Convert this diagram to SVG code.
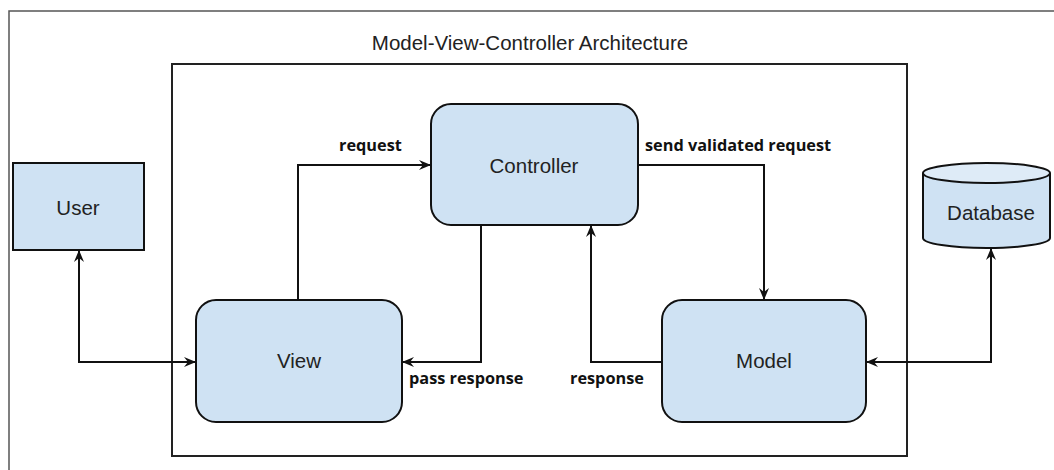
<svg xmlns="http://www.w3.org/2000/svg" width="1054" height="470" viewBox="0 0 1054 470">
  <style>
    .node { fill: #cfe2f3; stroke: #111; stroke-width: 2; }
    .label { font-family: "Liberation Sans", Arial, sans-serif; font-size: 20.5px; fill: #222; text-anchor: middle; }
    .edge { fill: none; stroke: #111; stroke-width: 2; }
    .elabel { font-family: "Open Sans", "DejaVu Sans", sans-serif; font-size: 16.3px; font-weight: bold; fill: #111; }
  </style>
  <defs>
    <marker id="arrow" viewBox="0 0 12 10" refX="11" refY="5" markerWidth="12" markerHeight="10" markerUnits="userSpaceOnUse" orient="auto-start-reverse">
      <path d="M0,0 L12,5 L0,10 L4,5 Z" fill="#111"/>
    </marker>
  </defs>

  <rect width="1054" height="470" fill="#fff"/>

  <!-- outer frame, running off the right and bottom edges -->
  <path d="M9,480 V11 H1060" fill="none" stroke="#555" stroke-width="1.5"/>

  <!-- architecture boundary -->
  <g id="boundary">
    <rect x="172" y="64" width="735" height="392" fill="none" stroke="#222" stroke-width="2"/>
    <text x="530" y="50" class="label">Model-View-Controller Architecture</text>
  </g>

  <g id="user">
    <rect x="13" y="163" width="131" height="87" class="node"/>
    <text x="78" y="215" class="label">User</text>
  </g>

  <g id="controller">
    <rect x="431" y="104" width="207" height="121" rx="20" class="node"/>
    <text x="534" y="173" class="label">Controller</text>
  </g>

  <g id="view">
    <rect x="196" y="300" width="206" height="122" rx="20" class="node"/>
    <text x="299" y="368" class="label">View</text>
  </g>

  <g id="model">
    <rect x="662" y="300" width="204" height="122" rx="20" class="node"/>
    <text x="764" y="368" class="label">Model</text>
  </g>

  <g id="database">
    <path d="M923,173 V238 A63.5,10 0 0 0 1050,238 V173" fill="#cfe2f3" stroke="#111" stroke-width="2"/>
    <ellipse cx="986.5" cy="173" rx="63.5" ry="10" fill="#deebf7" stroke="#111" stroke-width="2"/>
    <text x="991" y="220" class="label">Database</text>
  </g>

  <g id="connectors">
    <!-- User <-> View -->
    <path d="M79,251 V362 H195" class="edge" marker-start="url(#arrow)" marker-end="url(#arrow)"/>
    <!-- View -> Controller -->
    <path d="M298,300 V165 H430" class="edge" marker-end="url(#arrow)"/>
    <text x="339" y="151" class="elabel">request</text>
    <!-- Controller -> View -->
    <path d="M481,225 V362 H403" class="edge" marker-end="url(#arrow)"/>
    <text x="409" y="384" class="elabel">pass response</text>
    <!-- Controller -> Model -->
    <path d="M638,165 H764 V299" class="edge" marker-end="url(#arrow)"/>
    <text x="645" y="151" class="elabel">send validated request</text>
    <!-- Model -> Controller -->
    <path d="M662,362 H591 V226" class="edge" marker-end="url(#arrow)"/>
    <text x="570" y="384" class="elabel">response</text>
    <!-- Model <-> Database -->
    <path d="M867,362 H991 V249" class="edge" marker-start="url(#arrow)" marker-end="url(#arrow)"/>
  </g>
</svg>
